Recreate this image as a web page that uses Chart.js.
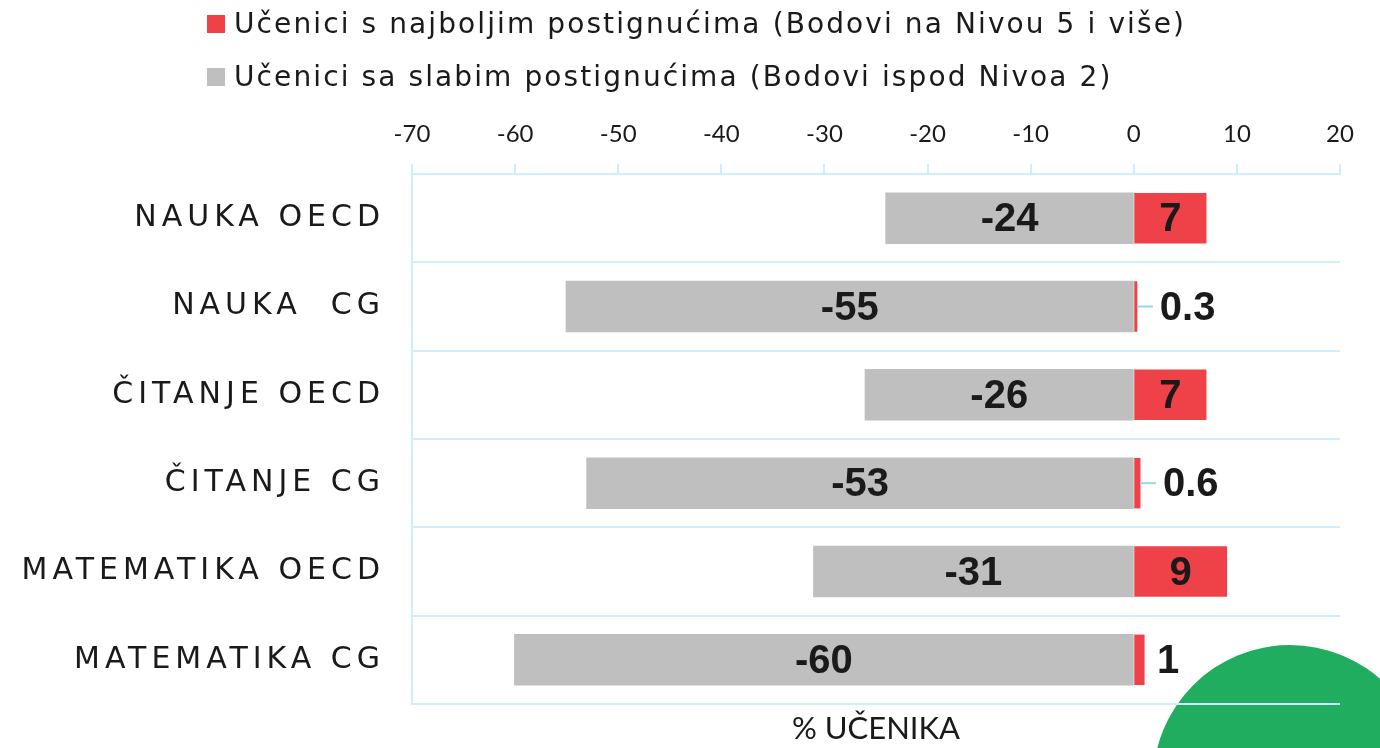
<!DOCTYPE html>
<html>
<head>
<meta charset="utf-8">
<script src="https://cdn.jsdelivr.net/npm/chart.js@4"></script>
<style>
    html, body { margin: 0; padding: 0; background: #fff; }
    #wrap { position: relative; width: 1380px; height: 748px; overflow: hidden; }
    #blob { position: absolute; left: 1153px; top: 645px; width: 274px; height: 274px; border-radius: 50%; background: #21ad5f; }
    #chart-box { position: absolute; left: 0; top: 0; width: 1380px; height: 748px; }
    .legend { position: absolute; left: 207px; font-family: "DejaVu Sans", Verdana, sans-serif; font-size: 28px; letter-spacing: 2.1px; color: #1a1a1a; display: flex; align-items: center; white-space: pre; }
    .legend i { display: inline-block; width: 18px; height: 18px; margin-right: 9px; }
</style>
</head>
<body>
<div id="wrap">
    <div id="blob"></div>
    <div id="chart-box"><canvas id="chart"></canvas></div>
    <div class="legend" style="top: 7px;"><i style="background:#ee4148"></i><span id="leg-top"></span></div>
    <div class="legend" style="top: 60px;"><i style="background:#bfbfbf"></i><span id="leg-low"></span></div>
</div>
<script>
const categories = ["NAUKA OECD", "NAUKA  CG", "ČITANJE OECD", "ČITANJE CG", "MATEMATIKA OECD", "MATEMATIKA CG"];
const lowValues = [-24, -55, -26, -53, -31, -60];
const topValues = [7, 0.3, 7, 0.6, 9, 1];
const seriesNames = [
    "Učenici s najboljim postignućima (Bodovi na Nivou 5 i više)",
    "Učenici sa slabim postignućima (Bodovi ispod Nivoa 2)",
];
const axisMin = -70;
const axisMax = 20;
const axisStep = 10;
const axisTitle = "% UČENIKA";

const GRID = "#cdeefc";
const INK = "#1a1a1a";

document.getElementById("leg-top").textContent = seriesNames[0];
document.getElementById("leg-low").textContent = seriesNames[1];

// category names drawn with letter spacing, placed by the y scale
const categoryLabels = {
    id: "categoryLabels",
    afterDraw(chart) {
        const ctx = chart.ctx;
        const y = chart.scales.y;
        ctx.save();
        ctx.font = "30px 'DejaVu Sans', Verdana, sans-serif";
        ctx.fillStyle = INK;
        ctx.textAlign = "right";
        ctx.textBaseline = "middle";
        ctx.letterSpacing = "5px";
        categories.forEach((name, i) => {
            ctx.fillText(name, chart.chartArea.left - 27, y.getPixelForValue(i));
        });
        ctx.restore();
    },
};

// value labels: inside the bars, or outside with a short leader for tiny red bars
const valueLabels = {
    id: "valueLabels",
    afterDatasetsDraw(chart) {
        const ctx = chart.ctx;
        ctx.save();
        ctx.font = "bold 40px 'Liberation Sans', Arial, sans-serif";
        ctx.fillStyle = INK;
        ctx.textBaseline = "middle";
        chart.data.datasets.forEach((ds, di) => {
            const meta = chart.getDatasetMeta(di);
            meta.data.forEach((bar, i) => {
                const value = ds.data[i];
                const yMid = bar.y + 2;
                if (Math.abs(value) >= 2) {
                    ctx.textAlign = "center";
                    ctx.fillText(String(value), (bar.x + bar.base) / 2, yMid);
                    return;
                }
                ctx.textAlign = "left";
                if (value < 1) {
                    ctx.strokeStyle = "#8fd8f4";
                    ctx.lineWidth = 2;
                    ctx.beginPath();
                    ctx.moveTo(bar.x + 1, bar.y);
                    ctx.lineTo(bar.x + 16, bar.y);
                    ctx.stroke();
                    ctx.fillText(String(value), bar.x + 23, yMid);
                } else {
                    ctx.fillText(String(value), bar.x + 13, yMid);
                }
            });
        });
        ctx.restore();
    },
};

new Chart(document.getElementById("chart"), {
    type: "bar",
    data: {
        labels: categories,
        datasets: [
            {
                label: seriesNames[1],
                data: lowValues,
                backgroundColor: "#bfbfbf",
                borderWidth: 0,
                inflateAmount: 1,
            },
            {
                label: seriesNames[0],
                data: topValues,
                backgroundColor: "#ee4148",
                borderWidth: 0,
                inflateAmount: 0.5,
            },
        ],
    },
    options: {
        indexAxis: "y",
        responsive: true,
        maintainAspectRatio: false,
        animation: false,
        layout: {
            padding: { left: 412, right: 40, top: 110, bottom: 0 },
        },
        datasets: {
            bar: { categoryPercentage: 1, barPercentage: 0.56 },
        },
        scales: {
            x: {
                position: "top",
                stacked: true,
                min: axisMin,
                max: axisMax,
                ticks: {
                    stepSize: axisStep,
                    padding: 15,
                    color: INK,
                    font: { family: "Lato, 'Open Sans', sans-serif", size: 24 },
                },
                grid: {
                    drawOnChartArea: false,
                    tickLength: 10,
                    color: GRID,
                    lineWidth: 2,
                },
                border: { color: GRID, width: 2 },
                afterFit(scale) {
                    scale.height = 64;
                },
            },
            x2: {
                position: "bottom",
                min: axisMin,
                max: axisMax,
                ticks: { display: false },
                grid: { display: false },
                border: { display: false },
                title: {
                    display: true,
                    text: axisTitle,
                    color: INK,
                    padding: 0,
                    font: { family: "Lato, 'Open Sans', sans-serif", size: 31 },
                },
                afterFit(scale) {
                    scale.height = 44;
                },
            },
            y: {
                stacked: true,
                offset: true,
                ticks: { display: false },
                grid: {
                    offset: true,
                    drawTicks: false,
                    color: GRID,
                    lineWidth: 2,
                },
                border: { color: GRID, width: 2 },
                afterFit(scale) {
                    scale.width = 0;
                },
            },
        },
        plugins: {
            legend: { display: false },
            tooltip: { enabled: false },
        },
    },
    plugins: [categoryLabels, valueLabels],
});
</script>
</body>
</html>
